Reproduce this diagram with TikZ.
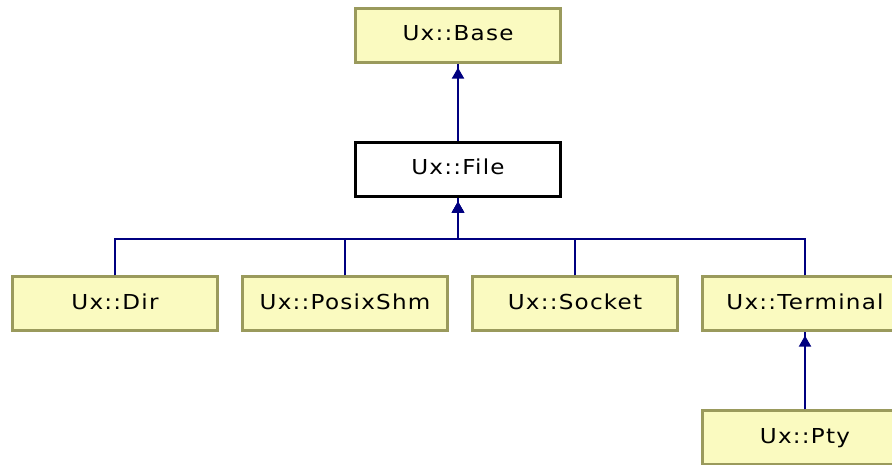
\documentclass[tikz,border=0pt]{standalone}
\usepackage{fontspec}
\usetikzlibrary{arrows.meta}
\newfontfamily\dxfont[LetterSpace=6,FakeStretch=1.12]{DejaVu Sans}
\definecolor{dxnavy}{HTML}{000080}
\definecolor{dxfill}{HTML}{FAFAC0}
\definecolor{dxedge}{HTML}{9A9A5C}

\begin{document}
\begin{tikzpicture}[x=1pt,y=-1pt,line cap=butt,
    cls/.style={draw=dxedge,fill=dxfill,line width=2.2pt,minimum width=205pt,
      minimum height=54pt,inner sep=0pt,text height=15pt,text depth=4pt,
      font=\dxfont\fontsize{20.6}{24}\selectfont},
    inh/.style={dxnavy,line width=2pt,
      postaction={draw,-{Triangle[width=12pt,length=11pt,sep=4pt]}}}]
    \useasboundingbox (0,0) rectangle (892,465);
    % classes
    \node[cls] (base) at (458,35.5) {Ux::Base};
    \node[cls,draw=black,fill=white] (file) at (458,169.5) {Ux::File};
    \node[cls] (dir) at (115,303.5) {Ux::Dir};
    \node[cls] (shm) at (345,303.5) {Ux::PosixShm};
    \node[cls] (sock) at (575,303.5) {Ux::Socket};
    \node[cls] (term) at (805,303.5) {Ux::Terminal};
    \node[cls] (pty) at (805,437.5) {Ux::Pty};
    \coordinate (fork) at (458,239);
    % inheritance
    \draw[inh] (file.north) -- (base.south);
    \draw[inh] (dir.north) |- (fork) -- (file.south);
    \draw[inh] (shm.north) |- (fork) -- (file.south);
    \draw[inh] (sock.north) |- (fork) -- (file.south);
    \draw[inh] (term.north) |- (fork) -- (file.south);
    \draw[inh] (pty.north) -- (term.south);
  \end{tikzpicture}
\end{document}
